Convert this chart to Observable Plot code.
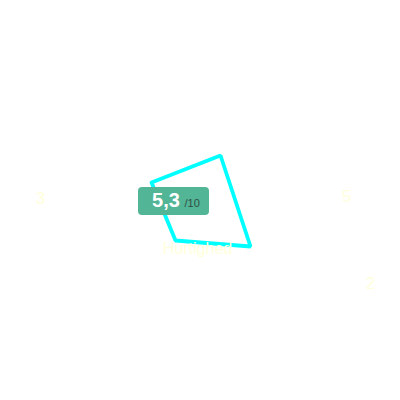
<!DOCTYPE html>
<html><head><meta charset="utf-8">
<script src="https://cdn.jsdelivr.net/npm/d3@7"></script>
<script src="https://cdn.jsdelivr.net/npm/@observablehq/plot@0.6"></script>
<style>body{margin:0;background:#fff;font-family:"Liberation Sans",Arial,sans-serif;}</style>
</head><body><div id="chart"></div>
<script>
// polygon vertices (radar units)
const vertexX = [-4.9, 2.0, 5.0, -2.5];
const vertexY = [1.8, 4.5, -4.6, -4.0];
// faint labels
const labelText = ["3", "5", "2", "Hurtighed"];
const labelX = [-16, 14.6, 17, -0.3];
const labelY = [0.2, 0.4, -8.3, -4.8];
// score badge
const scoreText = "5,3";
const scoreMax = "/10";
const badge = {x1: -6.2, x2: 0.9, y1: 1.3, y2: -1.5};
const scorePos = {x: -3.45, y: -0.05};
const maxPos = {x: -1.6, y: -0.25};

const poly = vertexX.map((x, i) => ({x, y: vertexY[i]}));
poly.push(poly[0]);
const labels = labelText.map((t, i) => ({t, x: labelX[i], y: labelY[i]}));

const chart = Plot.plot({
  width: 400, height: 400,
  margin: 0,
  x: {domain: [-20, 20], axis: null},
  y: {domain: [-20, 20], axis: null},
  style: {fontFamily: '"Liberation Sans", Arial, sans-serif', background: "#fff"},
  marks: [
    Plot.line(poly, {x: "x", y: "y", stroke: "#00ffff", strokeWidth: 3.8, strokeLinejoin: "miter"}),
    Plot.text(labels, {x: "x", y: "y", text: "t", fill: "#ffffdc", fontSize: 16}),
    Plot.rect([badge], {x1: "x1", x2: "x2", y1: "y1", y2: "y2", fill: "#52b596", rx: 4}),
    Plot.text([scorePos], {x: "x", y: "y", text: () => scoreText, fill: "#fff", fontSize: 20, fontWeight: "bold"}),
    Plot.text([maxPos], {x: "x", y: "y", text: () => scoreMax, fill: "#2f4f45", fontSize: 11, textAnchor: "start"})
  ]
});
document.getElementById("chart").appendChild(chart);
</script>
</body></html>
